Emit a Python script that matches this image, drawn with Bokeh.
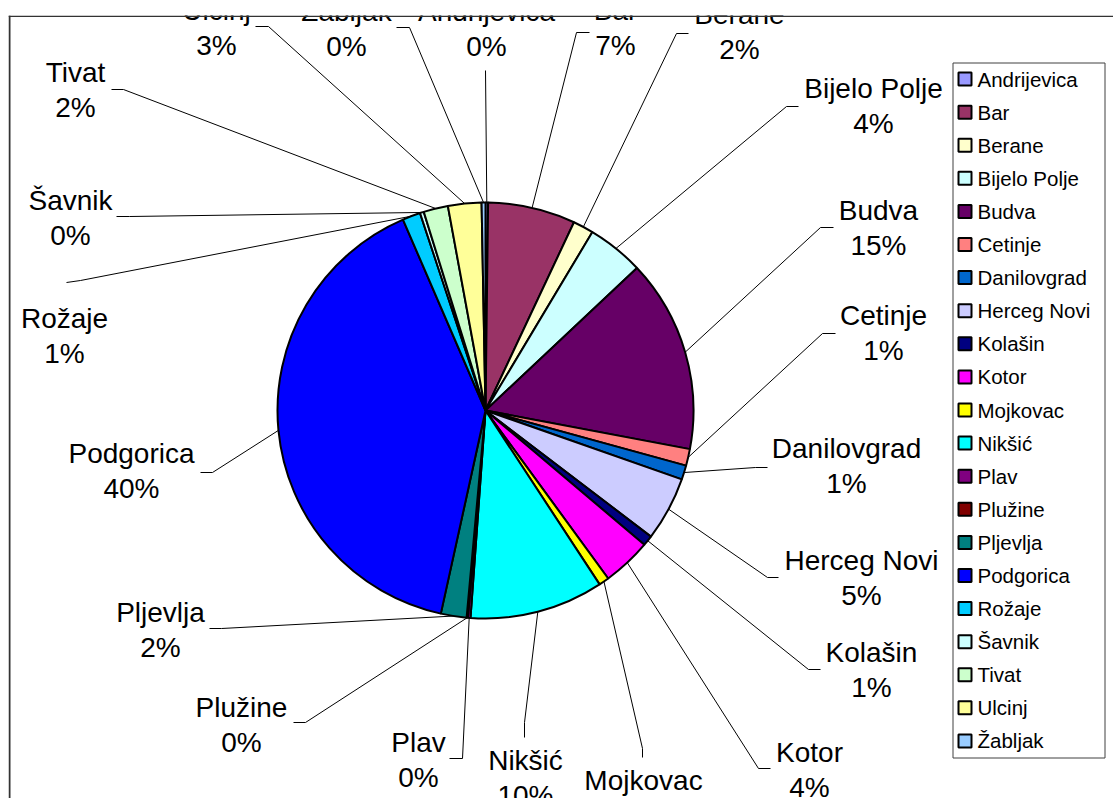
import math
from bokeh.plotting import figure
from bokeh.models import Range1d, Span, ColumnDataSource
from bokeh.core.properties import value
from bokeh.embed import file_html
from bokeh.resources import INLINE

# ---------------- data ----------------
names = ["Andrijevica", "Bar", "Berane", "Bijelo Polje", "Budva", "Cetinje",
         "Danilovgrad", "Herceg Novi", "Kolašin", "Kotor", "Mojkovac", "Nikšić",
         "Plav", "Plužine", "Pljevlja", "Podgorica", "Rožaje", "Šavnik", "Tivat",
         "Ulcinj", "Žabljak"]
shares = [0.2, 6.8, 1.6, 4.4, 15.0, 1.3, 1.1, 5.0, 0.8, 3.8, 0.8, 10.4,
          0.2, 0.1, 2.0, 40.1, 1.4, 0.3, 1.9, 2.6, 0.3]
colors = ["#9999FF", "#993366", "#FFFFCC", "#CCFFFF", "#660066", "#FF8080",
          "#0066CC", "#CCCCFF", "#000080", "#FF00FF", "#FFFF00", "#00FFFF",
          "#800080", "#800000", "#008080", "#0000FF", "#00CCFF", "#CCFFFF",
          "#CCFFCC", "#FFFF99", "#99CCFF"]

# ---------------- layout (page pixels) ----------------
CX, CY, R = 485, 410, 208
label_x = [486, 615, 739, 873, 878, 883, 846, 861, 871, 809, 643, 525,
           418, 241, 160, 131, 64, 70, 75, 216, 346]
label_y = [11, 10, 14, 88, 210, 315, 448, 560, 652, 752, 780, 760,
           742, 707, 612, 453, 318, 200, 72, 10, 11]
elbow = [(485, 70), (576, 32), (676, 33), (786, 106), (820, 227), (822, 333),
         (755, 467), (767, 577), (808, 669), (758, 768), (642, 748), (524, 722),
         (462, 758), (305, 722), (221, 628), (212, 472), (80, 280), (129, 216),
         (123, 89), (268, 26), (409, 27)]
tail = [(485, 70), (589, 32), (688, 33), (798, 106), (833, 227), (835, 333),
        (767, 467), (778, 577), (820, 669), (770, 768), (642, 757), (524, 737),
        (449, 758), (293, 722), (209, 628), (200, 472), (66, 282), (116, 216),
        (111, 89), (255, 26), (396, 27)]
LINE_GAP = 35
FONT = "Liberation Sans"
FRAME_BOTTOM = 798  # page y of the frame's bottom edge
LEG_L, LEG_R, LEG_T, LEG_B = 952, 1104, 62, 757
LEG_SW_X, LEG_TX = 964.5, 977


def Y(y):
    return FRAME_BOTTOM - y


p = figure(width=1113, height=798, output_backend="svg", toolbar_location=None,
           x_range=Range1d(8, 1113), y_range=Range1d(0, 783),
           x_axis_location=None, y_axis_location=None,
           min_border_left=8, min_border_right=0, min_border_top=15,
           min_border_bottom=0)
p.grid.visible = False
p.outline_line_color = None
p.background_fill_color = "white"
p.border_fill_color = "white"

# wedges
total = sum(shares)
starts, ends, mid_x, mid_y = [], [], [], []
cum = 0.0
for s in shares:
    a0 = math.pi / 2 - 2 * math.pi * cum / total
    cum += s
    a1 = math.pi / 2 - 2 * math.pi * cum / total
    starts.append(a0)
    ends.append(a1)
    am = (a0 + a1) / 2
    mid_x.append(CX + R * math.cos(am))
    mid_y.append(Y(CY) + R * math.sin(am))

src = ColumnDataSource(dict(name=names, share=shares, color=colors,
                            start=starts, end=ends))
p.wedge(x=CX, y=Y(CY), radius=R, start_angle="start", end_angle="end",
        direction="clock", fill_color="color", line_color="black",
        line_width=2, source=src)

# leader lines
xs, ys = [], []
for i in range(len(names)):
    xs.append([mid_x[i], elbow[i][0], tail[i][0]])
    ys.append([mid_y[i], Y(elbow[i][1]), Y(tail[i][1])])
p.multi_line(xs=xs, ys=ys, line_color="black", line_width=1)

# labels
pct = [f"{round(100 * s / total)}%" for s in shares]
lab = ColumnDataSource(dict(x=label_x, yn=[Y(v) for v in label_y],
                            yp=[Y(v + LINE_GAP) for v in label_y],
                            name=names, pct=pct))
for col, txt in (("yn", "name"), ("yp", "pct")):
    p.text(x="x", y=col, text=txt, source=lab, text_font=value(FONT),
           text_font_size="28px", text_align="center",
           text_baseline="middle", text_color="black")

# chart border (top and left visible)
p.add_layout(Span(location=782.2, dimension="width", line_color="#333333",
                  line_width=1.5))
p.add_layout(Span(location=9, dimension="height", line_color="#333333",
                  line_width=2))

# legend (box, swatches, labels)
p.quad(left=LEG_L + 0.5, right=LEG_R + 0.5, top=Y(LEG_T) - 0.5,
       bottom=Y(LEG_B) - 0.5, fill_color="white", line_color="#404040",
       line_width=1)
pitch = (LEG_B - LEG_T) / len(names)
leg_y = [Y(LEG_T + pitch * (i + 0.5)) for i in range(len(names))]
leg = ColumnDataSource(dict(x=[LEG_SW_X] * len(names), tx=[LEG_TX] * len(names),
                            y=leg_y, name=names, color=colors))
p.rect(x="x", y="y", width=13, height=13, source=leg, fill_color="color",
       line_color="black", line_width=2)
p.text(x="tx", y="y", text="name", source=leg, text_font=value(FONT),
       text_font_size="20.5px", text_align="left", text_baseline="middle",
       text_color="black")

open("out.html", "w").write(file_html(p, INLINE))
